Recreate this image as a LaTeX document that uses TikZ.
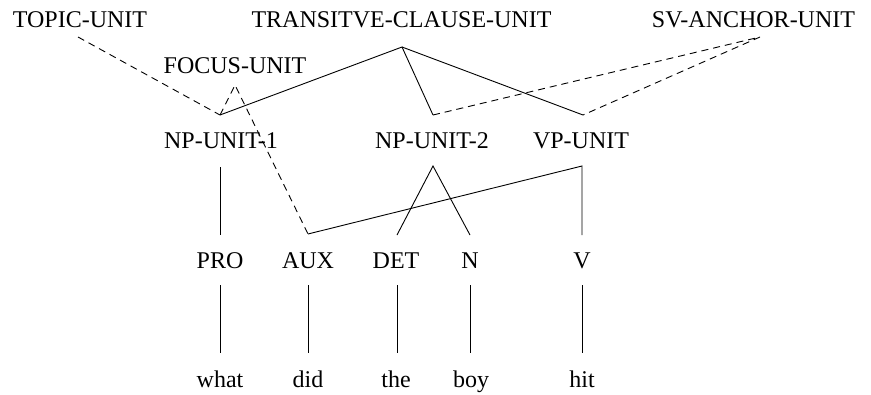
\documentclass[tikz,border=0pt]{standalone}
\usepackage{fontspec}
\setmainfont{Liberation Serif}
\begin{document}
\begin{tikzpicture}[x=1pt,y=-1pt,
  lbl/.style={anchor=base, inner sep=0pt, font=\fontsize{24}{28}\selectfont},
  tree/.style={line width=0.9pt},
  link/.style={line width=0.9pt, dash pattern=on 7pt off 5pt}]
\useasboundingbox (0,0) rectangle (871,394);
% labels
\node[lbl] (topic) at (80,27) {TOPIC-UNIT};
\node[lbl] (tcu) at (401.5,27) {TRANSITVE-CLAUSE-UNIT};
\node[lbl] (sv) at (753.5,27) {SV-ANCHOR-UNIT};
\node[lbl] (focus) at (235,73) {FOCUS-UNIT};
\node[lbl] (np1) at (221,148) {NP-UNIT-1};
\node[lbl] (np2) at (432,148) {NP-UNIT-2};
\node[lbl] (vp) at (581,148) {VP-UNIT};
\node[lbl] (pro) at (220,268) {PRO};
\node[lbl] (aux) at (308,268) {AUX};
\node[lbl] (det) at (396,268) {DET};
\node[lbl] (n) at (470,268) {N};
\node[lbl] (v) at (582,268) {V};
\node[lbl] (what) at (220,387) {what};
\node[lbl] (did) at (308,387) {did};
\node[lbl] (the) at (396,387) {the};
\node[lbl] (boy) at (471,387) {boy};
\node[lbl] (hit) at (582,387) {hit};
% attachment points
\coordinate (topicB) at (78,37);
\coordinate (tcuB) at (402,47);
\coordinate (svB) at (760,37);
\coordinate (focusB) at (235,85);
\coordinate (np1T) at (220,115);
\coordinate (np2T) at (433,115);
\coordinate (vpT) at (583,115);
\coordinate (np1B) at (220,167);
\coordinate (np2B) at (433,166);
\coordinate (vpB) at (582,166);
\coordinate (proT) at (220,235);
\coordinate (auxT) at (308,234);
\coordinate (detT) at (397,235);
\coordinate (nT) at (470,235);
\coordinate (vT) at (582,235);
\coordinate (proB) at (220,285);
\coordinate (auxB) at (308,285);
\coordinate (detB) at (397,285);
\coordinate (nB) at (470,285);
\coordinate (vB) at (582,285);
\coordinate (whatT) at (220,353);
\coordinate (didT) at (308,353);
\coordinate (theT) at (397,353);
\coordinate (boyT) at (470,353);
\coordinate (hitT) at (582,353);
% solid tree lines
\draw[tree] (np1T) -- (tcuB) -- (np2T);
\draw[tree] (tcuB) -- (vpT);
\draw[tree] (np1B) -- (proT);
\draw[tree] (detT) -- (np2B) -- (nT);
\draw[tree] (auxT) -- (vpB) -- (vT);
\draw[tree] (proB) -- (whatT);
\draw[tree] (auxB) -- (didT);
\draw[tree] (detB) -- (theT);
\draw[tree] (nB) -- (boyT);
\draw[tree] (vB) -- (hitT);
% dashed links
\draw[link] (topicB) -- (np1T);
\draw[link] (np1T) -- (focusB) -- (auxT);
\draw[link] (np2T) -- (svB) -- (vpT);
\end{tikzpicture}
\end{document}
